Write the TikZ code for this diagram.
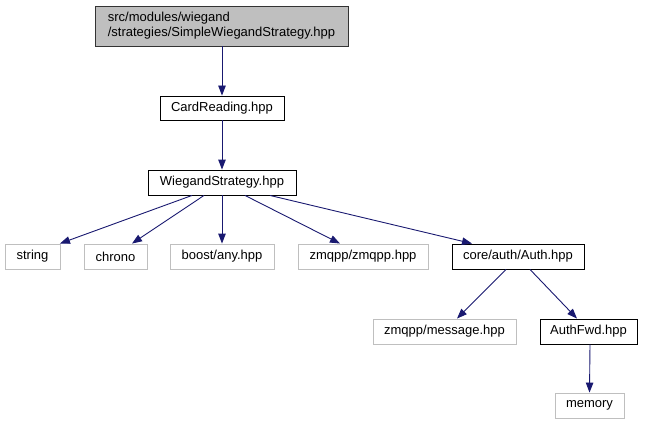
\documentclass[tikz,border=0pt]{standalone}
\usepackage{fontspec}
\setmainfont{Liberation Sans}
\usetikzlibrary{arrows.meta}
\definecolor{edgeblue}{HTML}{191970}
\definecolor{grayline}{HTML}{BFBFBF}
\tikzset{
  box/.style={draw=black, line width=0.9pt, inner sep=0pt, minimum height=25pt, font=\fontsize{13}{15}\selectfont, align=center},
  sysbox/.style={box, draw=grayline},
  topbox/.style={box, fill=grayline, draw=black!80, align=left},
  e/.style={draw=edgeblue, line width=0.9pt, -{Triangle[length=10pt,width=7.5pt]}}
}
\begin{document}
\begin{tikzpicture}[x=1pt,y=-1pt]
\useasboundingbox (0,0) rectangle (645,425);
\node[topbox, minimum width=253pt, minimum height=40pt] (top) at (221.5,26) {src/modules/wiegand\\/strategies/SimpleWiegandStrategy.hpp};
\node[box, minimum width=124pt, minimum height=24pt] (card) at (222,108) {CardReading.hpp};
\node[box, minimum width=148pt] (wieg) at (222,182.5) {WiegandStrategy.hpp};
\node[sysbox, minimum width=55pt] (string) at (32.5,256.5) {string};
\node[sysbox, minimum width=63pt] (chrono) at (115.5,256.5) {chrono};
\node[sysbox, minimum width=104pt] (boost) at (222,256.5) {boost/any.hpp};
\node[sysbox, minimum width=130pt] (zmqpp) at (363,256.5) {zmqpp/zmqpp.hpp};
\node[box, minimum width=132pt] (auth) at (518,256.5) {core/auth/Auth.hpp};
\node[sysbox, minimum width=143pt] (message) at (444.5,331.5) {zmqpp/message.hpp};
\node[box, minimum width=97pt] (authfwd) at (588.5,331.5) {AuthFwd.hpp};
\node[sysbox, minimum width=69pt] (memory) at (589.5,405.5) {memory};

\draw[e] ([xshift=0.5pt]top.south) -- (card.north);
\draw[e] (card.south) -- (wieg.north);
\draw[e] ([xshift=-30pt]wieg.south) -- ([xshift=-0.5pt]string.north east);
\draw[e] ([xshift=-18pt]wieg.south) -- ([xshift=16.5pt]chrono.north);
\draw[e] (wieg.south) -- (boost.north);
\draw[e] ([xshift=23pt]wieg.south) -- ([xshift=-23pt]zmqpp.north);
\draw[e] ([xshift=48pt]wieg.south) -- ([xshift=-46pt]auth.north);
\draw[e] ([xshift=-12pt]auth.south) -- ([xshift=12.5pt]message.north);
\draw[e] ([xshift=12pt]auth.south) -- ([xshift=-11.5pt]authfwd.north);
\draw[e] ([xshift=1.5pt]authfwd.south) -- (memory.north);
\end{tikzpicture}
\end{document}
